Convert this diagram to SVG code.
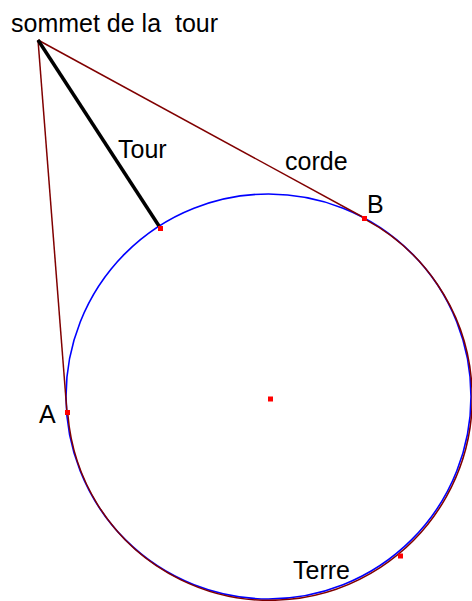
<svg xmlns="http://www.w3.org/2000/svg" width="472" height="601" viewBox="0 0 472 601">
<style>
.lbl{font-family:"Liberation Sans",Arial,sans-serif;font-size:25px;fill:#000;white-space:pre}
.pt{fill:#ff0000}
.br{stroke:#800000;stroke-width:1.5;fill:none}
</style>
<rect width="472" height="601" fill="#fff"/>
<g id="terre">
<circle cx="268.5" cy="396.5" r="202.5" fill="none" stroke="#0000ff" stroke-width="1.6"/>
</g>
<g id="connectors">
<line class="br" x1="38" y1="40" x2="364.5" y2="218"/>
<line class="br" x1="38" y1="40" x2="67" y2="412.5"/>
<path class="br" d="M364.5 218.5 A202.5 202.5 0 1 1 67 413" transform="translate(0.8,0.8)"/>
<line x1="38" y1="40" x2="159" y2="226" stroke="#000" stroke-width="3.5"/>
</g>
<g id="points">
<rect class="pt" x="158" y="226" width="5" height="5"/>
<rect class="pt" x="362" y="216" width="5" height="5"/>
<rect class="pt" x="65" y="410" width="5" height="5"/>
<rect class="pt" x="398" y="553.5" width="5" height="5"/>
<rect class="pt" x="268" y="396.5" width="5" height="5"/>
</g>
<g id="labels">
<text class="lbl" x="11" y="32" xml:space="preserve">sommet de la  tour</text>
<text class="lbl" x="118" y="158">Tour</text>
<text class="lbl" x="285" y="170">corde</text>
<text class="lbl" x="367" y="213">B</text>
<text class="lbl" x="39" y="422.5">A</text>
<text class="lbl" x="293" y="579">Terre</text>
</g>
</svg>
